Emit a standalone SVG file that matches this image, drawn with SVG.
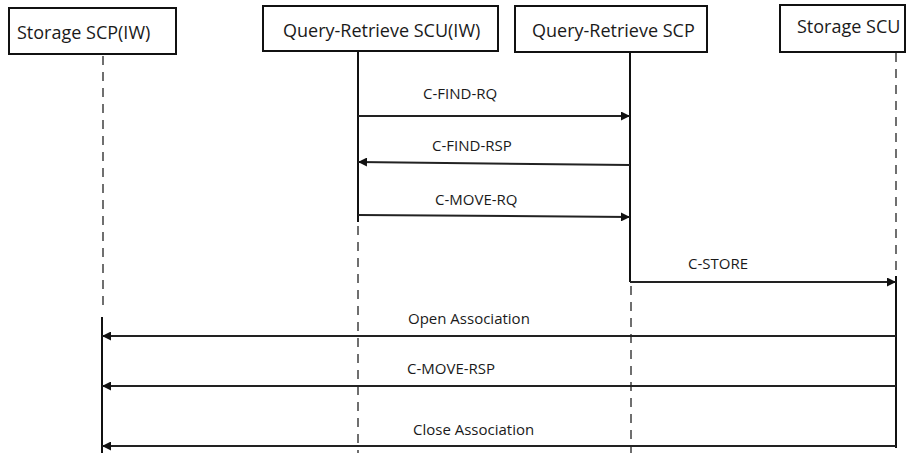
<svg xmlns="http://www.w3.org/2000/svg" width="907" height="453" viewBox="0 0 907 453">
<style>
.box{fill:#fff;stroke:#111;stroke-width:2}
.lbl{font-family:"Open Sans","Liberation Sans",sans-serif;font-size:18px;fill:#1a1a1a}
.msg{font-family:"Open Sans","Liberation Sans",sans-serif;font-size:15px;fill:#1a1a1a}
.solid{stroke:#111;stroke-width:2;fill:none}
.dash{stroke:#333;stroke-width:1.4;stroke-dasharray:9 7;fill:none}
.arr{stroke:#222;stroke-width:2;fill:none;marker-end:url(#ah)}
</style>
<defs>
<marker id="ah" viewBox="0 0 10 10" refX="10" refY="5" markerWidth="10" markerHeight="9" markerUnits="userSpaceOnUse" orient="auto">
<path d="M0,0 L10,5 L0,10 Z" fill="#111"/>
</marker>
</defs>
<rect width="907" height="453" fill="#fff"/>
<g id="node-storage-scp-iw">
<rect class="box" x="9" y="8" width="167" height="46"/>
<text class="lbl" x="17" y="39">Storage SCP(IW)</text>
</g>
<g id="node-qr-scu-iw">
<rect class="box" x="263" y="6" width="235" height="45"/>
<text class="lbl" x="283" y="37">Query-Retrieve SCU(IW)</text>
</g>
<g id="node-qr-scp">
<rect class="box" x="515" y="6" width="192" height="46"/>
<text class="lbl" x="532" y="37">Query-Retrieve SCP</text>
</g>
<g id="node-storage-scu">
<rect class="box" x="780" y="5" width="125" height="47"/>
<text class="lbl" x="797" y="33">Storage SCU</text>
</g>
<g id="lifelines">
<line class="dash" x1="103" y1="56" x2="103" y2="310"/>
<line class="solid" x1="102" y1="317" x2="102" y2="453"/>
<line class="solid" x1="358" y1="51" x2="358" y2="222"/>
<line class="dash" x1="358" y1="226" x2="358" y2="453"/>
<line class="solid" x1="630" y1="52" x2="630" y2="282"/>
<line class="dash" x1="631" y1="286" x2="631" y2="453"/>
<line class="dash" x1="896" y1="53" x2="896" y2="274"/>
<line class="solid" x1="896" y1="276" x2="896" y2="448"/>
</g>
<g id="connectors">
<line class="arr" x1="358" y1="116" x2="630" y2="116"/>
<line class="arr" x1="630" y1="165" x2="358" y2="162"/>
<line class="arr" x1="358" y1="215" x2="630" y2="217"/>
<line class="arr" x1="630" y1="282" x2="896" y2="282"/>
<line class="arr" x1="896" y1="336" x2="102" y2="336"/>
<line class="arr" x1="896" y1="386" x2="102" y2="386"/>
<line class="arr" x1="896" y1="446" x2="102" y2="446"/>
</g>
<g id="labels">
<text class="msg" x="423" y="99">C-FIND-RQ</text>
<text class="msg" x="432" y="151">C-FIND-RSP</text>
<text class="msg" x="435" y="205">C-MOVE-RQ</text>
<text class="msg" x="688" y="269">C-STORE</text>
<text class="msg" x="408" y="324">Open Association</text>
<text class="msg" x="407" y="374">C-MOVE-RSP</text>
<text class="msg" x="413" y="435">Close Association</text>
</g>
</svg>
